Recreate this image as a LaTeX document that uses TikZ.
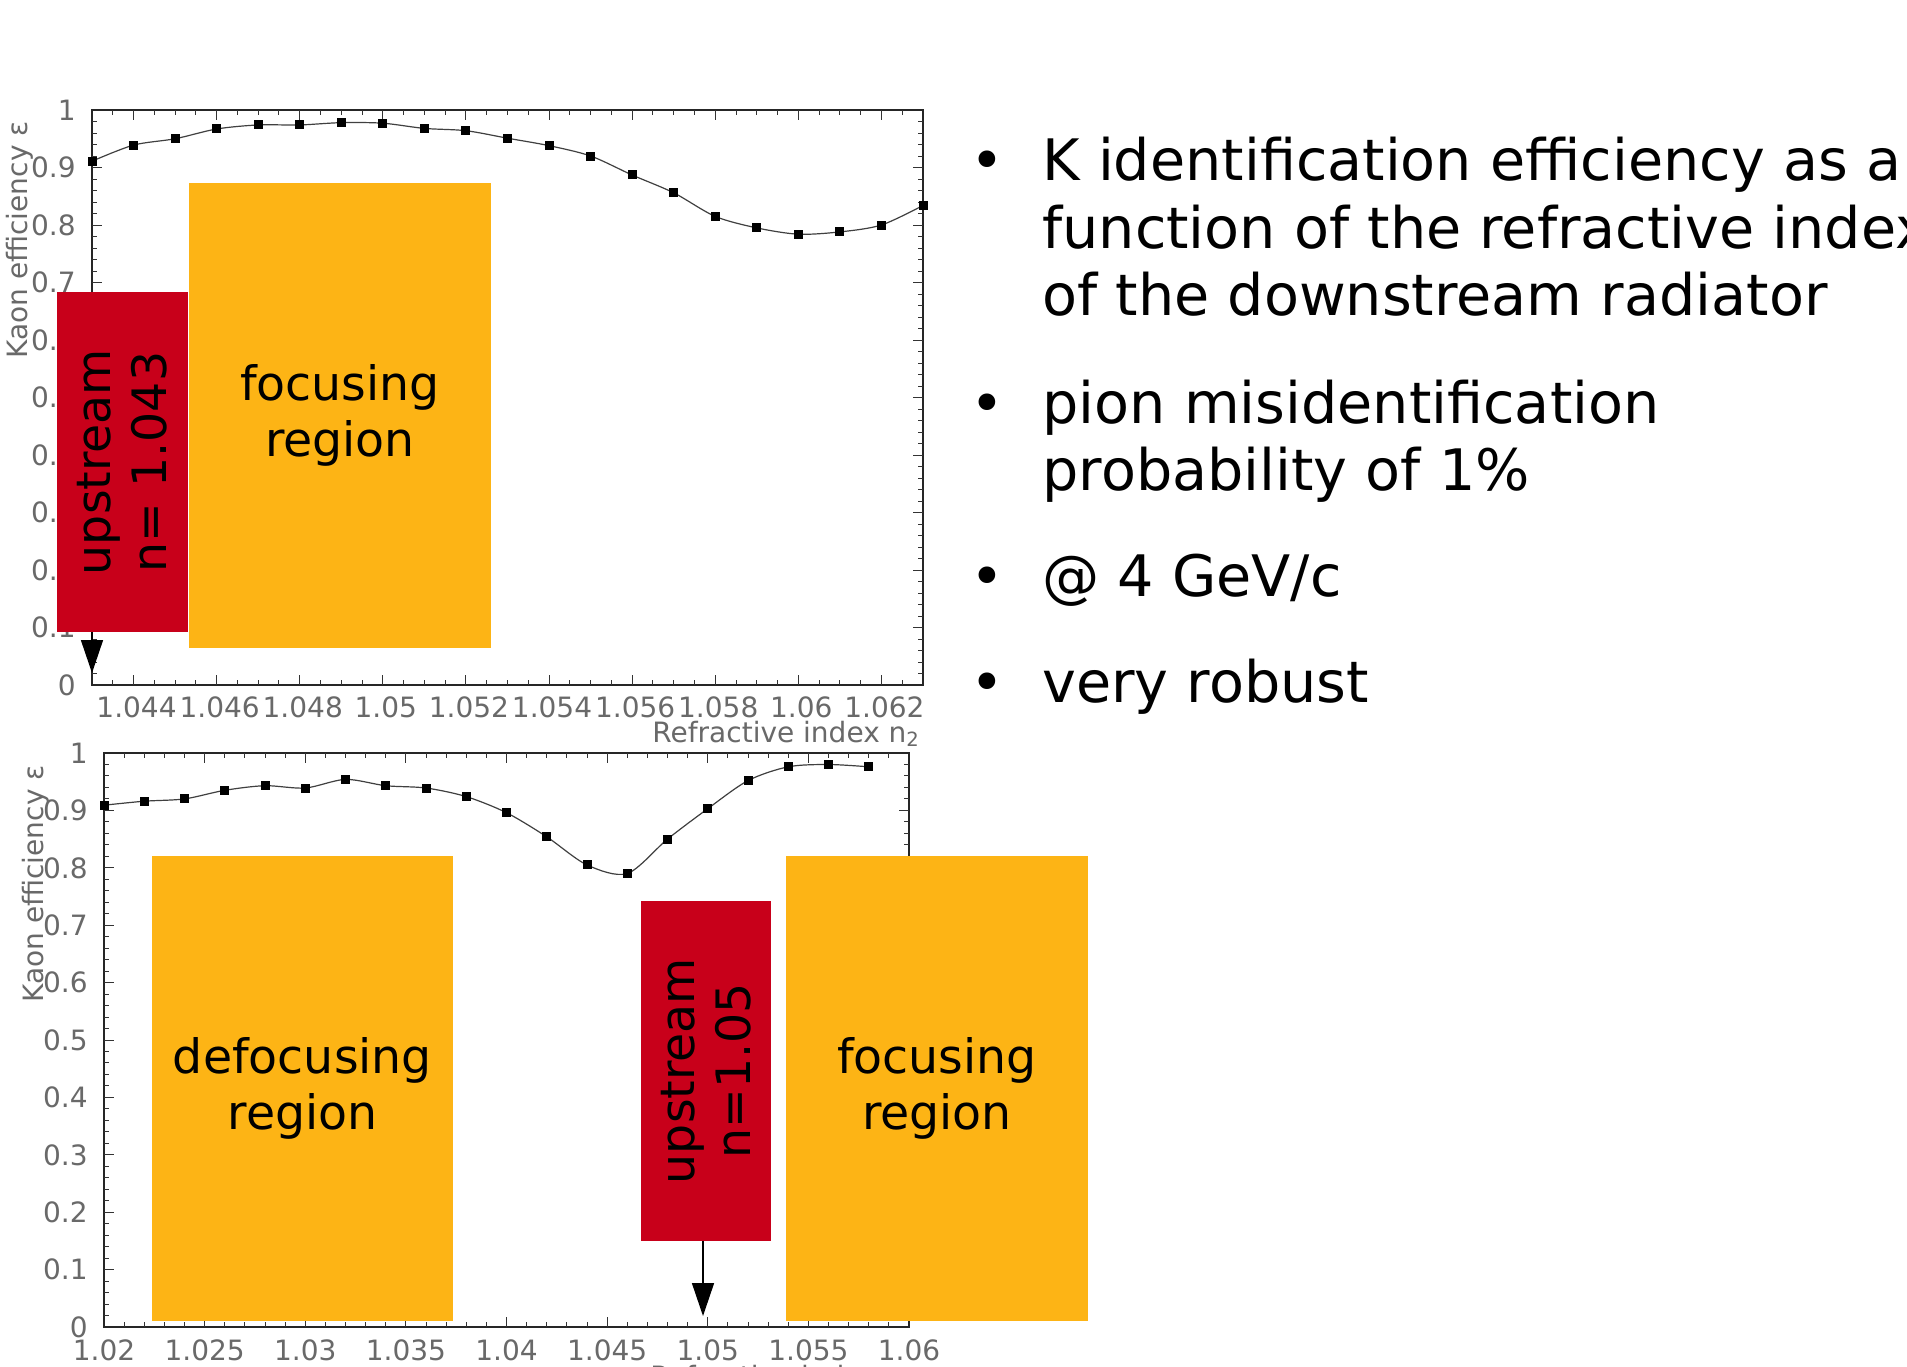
\documentclass[tikz,border=0pt]{standalone}
\usepackage{fontspec}
\setmainfont{DejaVu Sans}
\usetikzlibrary{arrows.meta}
\definecolor{boxred}{RGB}{200,0,26}
\definecolor{boxorange}{RGB}{253,180,21}
\definecolor{axisgray}{RGB}{105,105,105}
\tikzset{
  frame/.style={line width=1pt, black!85},
  tickmark/.style={line width=0.5pt, black!80},
  ticklabel/.style={font=\fontsize{14pt}{16pt}\selectfont, text=axisgray, inner sep=0pt},
  axtitle/.style={font=\fontsize{14pt}{16pt}\selectfont, text=axisgray, inner sep=0pt},
  redbox/.style={fill=boxred, draw=none, inner sep=0pt, align=center, font=\fontsize{23.7pt}{28pt}\selectfont},
  orangebox/.style={fill=boxorange, draw=none, inner sep=0pt, align=center, font=\fontsize{23.7pt}{28pt}\selectfont},
  curve/.style={line width=0.6pt, black!75},
  pointer/.style={line width=0.75pt, -{Triangle[width=11pt,length=16.5pt]}},
  bullettext/.style={font=\fontsize{28.6pt}{34pt}\selectfont, anchor=base west, inner sep=0pt},
  bulletdot/.style={font=\fontsize{28.6pt}{34pt}\selectfont, anchor=base, inner sep=0pt},
}
\begin{document}
\begin{tikzpicture}[x=0.5pt,y=-0.5pt]
\useasboundingbox (0,0) rectangle (1907,1366);
\fill[white] (0,0) rectangle (1907,1366);

% ================= TOP PLOT =================
\draw[frame] (92,110) rectangle (923,685);
\foreach \i in {1,...,39}{
  \draw[tickmark] ({92+20.775*\i},685) -- ++(0,-5);
  \draw[tickmark] ({92+20.775*\i},110) -- ++(0,5);
}
\foreach \i in {1,3,...,19}{
  \draw[tickmark] ({92+41.55*\i},685) -- ++(0,-10);
  \draw[tickmark] ({92+41.55*\i},110) -- ++(0,10);
}
\foreach \j in {1,...,49}{
  \draw[tickmark] (92,{685-11.5*\j}) -- ++(5,0);
  \draw[tickmark] (923,{685-11.5*\j}) -- ++(-5,0);
}
\foreach \j in {1,...,9}{
  \draw[tickmark] (92,{685-57.5*\j}) -- ++(10,0);
  \draw[tickmark] (923,{685-57.5*\j}) -- ++(-10,0);
}
\foreach \v/\t in {0/0,1/0.1,2/0.2,3/0.3,4/0.4,5/0.5,6/0.6,7/0.7,8/0.8,9/0.9,10/1}
  \node[ticklabel, anchor=east] (tyA\v) at (76,{685-57.5*\v}) {\t};
\foreach \k/\t in {1/1.044,3/1.046,5/1.048,7/1.05,9/1.052,11/1.054,13/1.056,15/1.058,17/1.06,19/1.062}
  \node[ticklabel] (txA\k) at ({92+41.55*\k+3},707) {\t};
\node[ticklabel, anchor=base west] (xtA) at (652,742) {Refractive index n\textsubscript{2}};
\node[axtitle, rotate=90] (ytA) at (20,240) {Kaon efficiency ε};

\draw[curve] plot[smooth, tension=0.5] coordinates {
 (92,161.2) (133.55,145.1) (175.1,138.75) (216.65,128.98) (258.2,124.95)
 (299.75,124.95) (341.3,122.65) (382.85,123.2) (424.4,128.4) (465.95,130.7)
 (507.5,138.2) (549.05,145.65) (590.6,156) (632.15,175) (673.7,192.8)
 (715.25,216.4) (756.8,227.9) (798.35,234.2) (839.9,231.9) (881.45,225) (923,205.45)};
\foreach \v [count=\k from 0] in {0.911,0.939,0.950,0.967,0.974,0.974,0.978,0.977,0.968,0.964,0.951,0.938,0.920,0.887,0.856,0.815,0.795,0.784,0.788,0.800,0.834}
  \fill ({92+41.55*\k-4.5},{685-575*\v-4.5}) rectangle ++(9,9);

% boxes top
\node[redbox, rotate=90, minimum width=170pt, minimum height=65.5pt] (upA) at (122.5,462) {upstream\\n= 1.043};
\node[orangebox, minimum width=151pt, minimum height=232.5pt] (focA) at (340,415.5) {focusing\\region};
\coordinate (tipA) at (92,673);
\draw[pointer] (upA.west -| tipA) -- (tipA);

% ================= BOTTOM PLOT =================
\draw[frame] (104,753) rectangle (909,1327);
\foreach \i in {1,...,39}{
  \draw[tickmark] ({104+20.125*\i},1327) -- ++(0,-5);
  \draw[tickmark] ({104+20.125*\i},753) -- ++(0,5);
}
\foreach \i in {5,10,...,35}{
  \draw[tickmark] ({104+20.125*\i},1327) -- ++(0,-10);
  \draw[tickmark] ({104+20.125*\i},753) -- ++(0,10);
}
\foreach \j in {1,...,49}{
  \draw[tickmark] (104,{1327-11.48*\j}) -- ++(5,0);
  \draw[tickmark] (909,{1327-11.48*\j}) -- ++(-5,0);
}
\foreach \j in {1,...,9}{
  \draw[tickmark] (104,{1327-57.4*\j}) -- ++(10,0);
  \draw[tickmark] (909,{1327-57.4*\j}) -- ++(-10,0);
}
\foreach \v/\t in {0/0,1/0.1,2/0.2,3/0.3,4/0.4,5/0.5,6/0.6,7/0.7,8/0.8,9/0.9,10/1}
  \node[ticklabel, anchor=east] (tyB\v) at (88,{1327-57.4*\v}) {\t};
\foreach \k/\t in {0/1.02,1/1.025,2/1.03,3/1.035,4/1.04,5/1.045,6/1.05,7/1.055,8/1.06}
  \node[ticklabel] (txB\k) at ({104+100.625*\k},1350) {\t};
\node[ticklabel, anchor=base west] (xtB) at (650,1386) {Refractive index n\textsubscript{2}};
\node[axtitle, rotate=90] (ytB) at (36,884) {Kaon efficiency ε};

\draw[curve] plot[smooth, tension=0.5] coordinates {
 (104,805.2) (144.25,801.2) (184.5,798.9) (224.75,790.3) (265,785.7)
 (305.25,788) (345.5,779.4) (385.75,785.7) (426,788) (466.25,796.6)
 (506.5,812.7) (546.75,836.8) (587,864.9) (627.25,873.5) (667.5,839.1)
 (707.75,808.7) (748,780.6) (788.25,766.8) (828.5,764.5) (868.75,766.8)};
\foreach \v [count=\k from 0] in {0.909,0.916,0.920,0.935,0.943,0.939,0.954,0.943,0.939,0.924,0.896,0.854,0.805,0.790,0.850,0.903,0.952,0.976,0.980,0.976}
  \fill ({104+40.25*\k-4.5},{1327-574*\v-4.5}) rectangle ++(9,9);

% boxes bottom
\node[orangebox, minimum width=150.5pt, minimum height=232.5pt] (defB) at (302.5,1088.5) {defocusing\\region};
\node[redbox, rotate=90, minimum width=170pt, minimum height=65pt] (upB) at (706,1071) {upstream\\n=1.05};
\node[orangebox, minimum width=151pt, minimum height=232.5pt] (focB) at (937,1088.5) {focusing\\region};
\coordinate (tipB) at (703,1316);
\draw[pointer] (upB.west -| tipB) -- (tipB);

% ================= BULLETS =================
\node[bulletdot] (d1) at (987,180) {•};
\node[bullettext] (l1a) at (1042,180) {K identification efficiency as a};
\node[bullettext] (l1b) at (1042,248) {function of the refractive index};
\node[bullettext] (l1c) at (1042,315) {of the downstream radiator};
\node[bulletdot] (d2) at (987,423) {•};
\node[bullettext] (l2a) at (1042,423) {pion misidentification};
\node[bullettext] (l2b) at (1042,490) {probability of 1\%};
\node[bulletdot] (d3) at (987,596) {•};
\node[bullettext] (l3a) at (1042,596) {@ 4 GeV/c};
\node[bulletdot] (d4) at (987,702) {•};
\node[bullettext] (l4a) at (1042,702) {very robust};
\end{tikzpicture}
\end{document}
